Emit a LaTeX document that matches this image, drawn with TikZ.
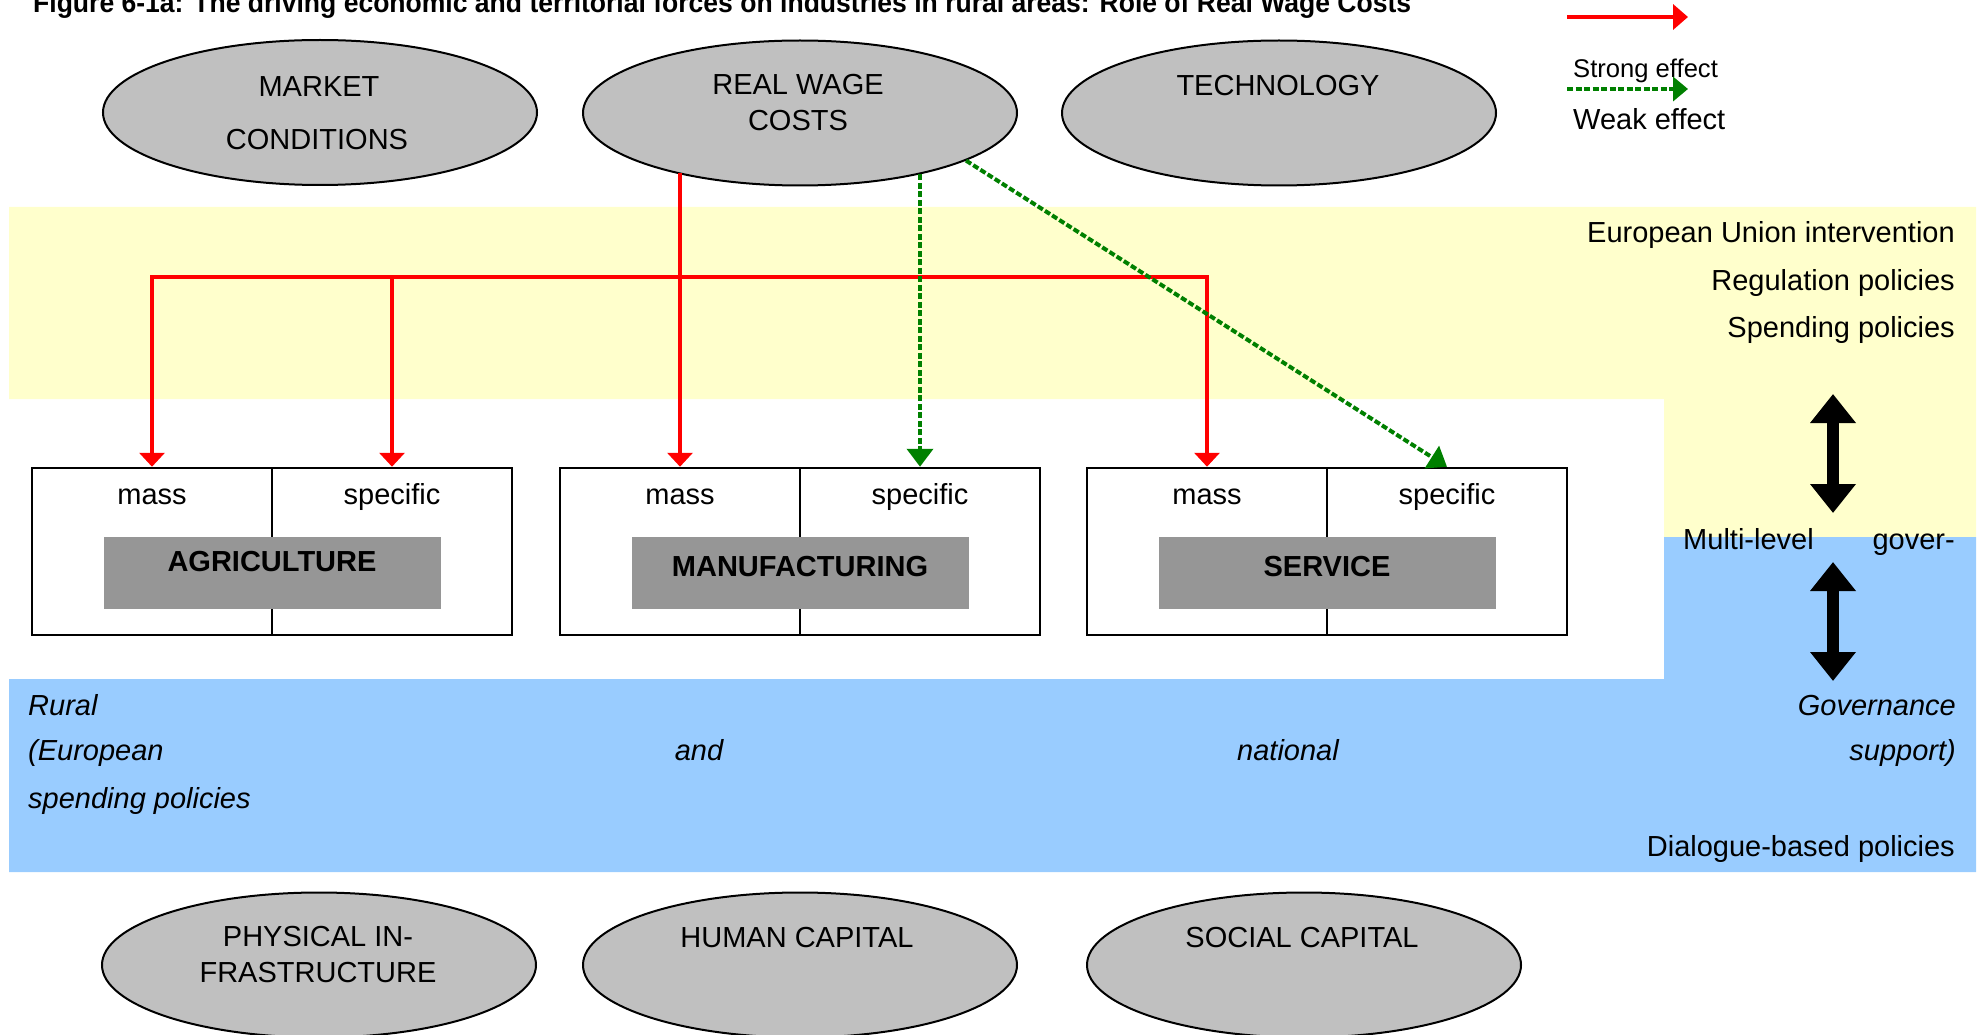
\documentclass[tikz,border=0pt]{standalone}
\usepackage{graphicx}
\usepackage{fontspec}
\setmainfont{Liberation Sans}
\usetikzlibrary{arrows.meta,shapes.geometric}

\definecolor{bandyellow}{HTML}{FFFFCC}
\definecolor{bandblue}{HTML}{99CCFF}
\definecolor{ovalgray}{HTML}{C0C0C0}
\definecolor{sectorgray}{HTML}{969696}
\definecolor{strongred}{HTML}{FF0000}
\definecolor{weakgreen}{HTML}{008000}

\begin{document}
\begin{tikzpicture}[x=1pt,y=-1pt,
  txt/.style={inner sep=0pt, font=\fontsize{29}{34}\selectfont},
  force/.style={ellipse, draw=black, line width=2pt, fill=ovalgray,
    minimum width=434pt, minimum height=145pt, inner sep=0pt},
  cell/.style={rectangle, draw=black, line width=2.5pt,
    minimum width=240pt, minimum height=167pt, inner sep=0pt},
  sector/.style={rectangle, fill=sectorgray, minimum width=337pt,
    minimum height=72pt, inner sep=0pt},
  strong/.style={draw=strongred, line width=4.5pt, line join=miter, -{Triangle[width=25pt,length=14pt]}},
  weak/.style={draw=weakgreen, line width=4pt, dash pattern=on 6pt off 2.5pt,
    -{Triangle[width=26pt,length=18pt]}},
  twoway/.style={draw=black, line width=12pt,
    {Triangle[width=44pt,length=29pt]}-{Triangle[width=44pt,length=29pt]}}
]
\useasboundingbox (0,0) rectangle (1984,1035);

% policy bands
\fill[bandyellow] (9,207) -- (1976,207) -- (1976,537) -- (1664,537)
  -- (1664,399) -- (9,399) -- cycle;
\fill[bandblue] (1664,537) -- (1976,537) -- (1976,872) -- (9,872)
  -- (9,679) -- (1664,679) -- cycle;

% title
\node[anchor=base west, inner sep=0pt] (title) at (33,13)
  {\resizebox{1378pt}{\height}{\fontsize{28}{32}\selectfont\bfseries
   Figure 6-1a: The driving economic and territorial forces on industries in rural areas: Role of Real Wage Costs}};

% economic forces
\node[force] (mc)   at (320,112.5) {};
\node[force] (rwc)  at (800,113) {};
\node[force] (tech) at (1279,113) {};
\node[txt, anchor=base] (mcA) at (319,97) {MARKET};
\node[txt, anchor=base] (mcB) at (317,150) {CONDITIONS};
\node[txt, anchor=base] (rwcA) at (798,95) {REAL WAGE};
\node[txt, anchor=base] (rwcB) at (798,131) {COSTS};
\node[txt, anchor=base] (techA) at (1278,96) {TECHNOLOGY};

% territorial forces
\node[force] (phys) at (319,965) {};
\node[force] (hum)  at (800,965) {};
\node[force] (soc)  at (1304,965) {};
\node[txt, anchor=base] (physA) at (318,946) {PHYSICAL IN-};
\node[txt, anchor=base] (physB) at (318,982) {FRASTRUCTURE};
\node[txt, anchor=base] (humA) at (797,947) {HUMAN CAPITAL};
\node[txt, anchor=base] (socA) at (1302,947) {SOCIAL CAPITAL};

% sectors: mass / specific cells
\node[cell] (agriM) at (152,551.5) {};
\node[cell] (agriS) at (392,551.5) {};
\node[cell] (mfgM)  at (680,551.5) {};
\node[cell] (mfgS)  at (920,551.5) {};
\node[cell] (svcM)  at (1207,551.5) {};
\node[cell] (svcS)  at (1447,551.5) {};
\foreach \c in {agriM,mfgM,svcM} {
  \node[txt, anchor=base] at (\c.north |- 0,504) {mass};
}
\foreach \c in {agriS,mfgS,svcS} {
  \node[txt, anchor=base] at (\c.north |- 0,504) {specific};
}
\node[sector] (agri) at (272,573) {};
\node[sector] (mfg)  at (800,573) {};
\node[sector] (svc)  at (1327,573) {};
\node[txt, anchor=base, font=\fontsize{29}{34}\selectfont\bfseries] (agriT) at (272,571) {AGRICULTURE};
\node[txt, anchor=base, font=\fontsize{29}{34}\selectfont\bfseries] (mfgT)  at (800,576) {MANUFACTURING};
\node[txt, anchor=base, font=\fontsize{29}{34}\selectfont\bfseries] (svcT)  at (1327,576) {SERVICE};

% effects of real wage costs
\coordinate (bus) at (0,277);
\draw[strong, {Triangle[width=25pt,length=14pt]}-{Triangle[width=25pt,length=14pt]}]
  (agriM.north) -- (agriM.north |- bus) -- (svcM.north |- bus) -- (svcM.north);
\draw[strong] (agriS.north |- bus) -- (agriS.north);
\draw[strong] (rwc.206.57 -| mfgM.north) -- (mfgM.north);
\draw[weak] (rwc.333.43 -| mfgS.north) -- (mfgS.north);
\draw[weak] (rwc.344.7) -- (svcS.north);

% key
\coordinate (keyS1) at (1567,17);
\coordinate (keyS2) at (1688,17);
\coordinate (keyW1) at (1567,89);
\coordinate (keyW2) at (1688,89);
\node[txt, anchor=base west, font=\fontsize{25.6}{30}\selectfont] (keyS) at (1573,78) {Strong effect};
\node[txt, anchor=base west] (keyW) at (1573,130) {Weak effect};
\draw[strong, line width=4pt, -{Triangle[width=25pt,length=15pt]}] (keyS1) -- (keyS2);
\draw[weak, -{Triangle[width=24pt,length=15pt]}] (keyW1) -- (keyW2);

% policy levels
\node[txt, anchor=base east] (eu)  at (1955,243) {European Union intervention};
\node[txt, anchor=base east] (reg) at (1955,290) {Regulation policies};
\node[txt, anchor=base east] (spd) at (1955,337) {Spending policies};
\node[txt, anchor=base west] (mlA) at (1683,549) {Multi-level};
\node[txt, anchor=base east] (mlB) at (1955,549) {gover-};
\coordinate (up1) at (1833,394);
\coordinate (up2) at (1833,513);
\coordinate (dn1) at (1833,562);
\coordinate (dn2) at (1833,681);
\draw[twoway] (up1) -- (up2);
\draw[twoway] (dn1) -- (dn2);

\node[txt, anchor=base west, font=\fontsize{29}{34}\selectfont\itshape] (rA) at (28,715) {Rural};
\node[txt, anchor=base east, font=\fontsize{29}{34}\selectfont\itshape] (rB) at (1956,715) {Governance};
\node[txt, anchor=base west, font=\fontsize{29}{34}\selectfont\itshape] (rC) at (28,760) {(European};
\node[txt, anchor=base, font=\fontsize{29}{34}\selectfont\itshape] (rD) at (699,760) {and};
\node[txt, anchor=base, font=\fontsize{29}{34}\selectfont\itshape] (rE) at (1288,760) {national};
\node[txt, anchor=base east, font=\fontsize{29}{34}\selectfont\itshape] (rF) at (1956,760) {support)};
\node[txt, anchor=base west, font=\fontsize{29}{34}\selectfont\itshape] (rG) at (28,808) {spending policies};
\node[txt, anchor=base east] (dial) at (1955,856) {Dialogue-based policies};
\end{tikzpicture}
\end{document}
